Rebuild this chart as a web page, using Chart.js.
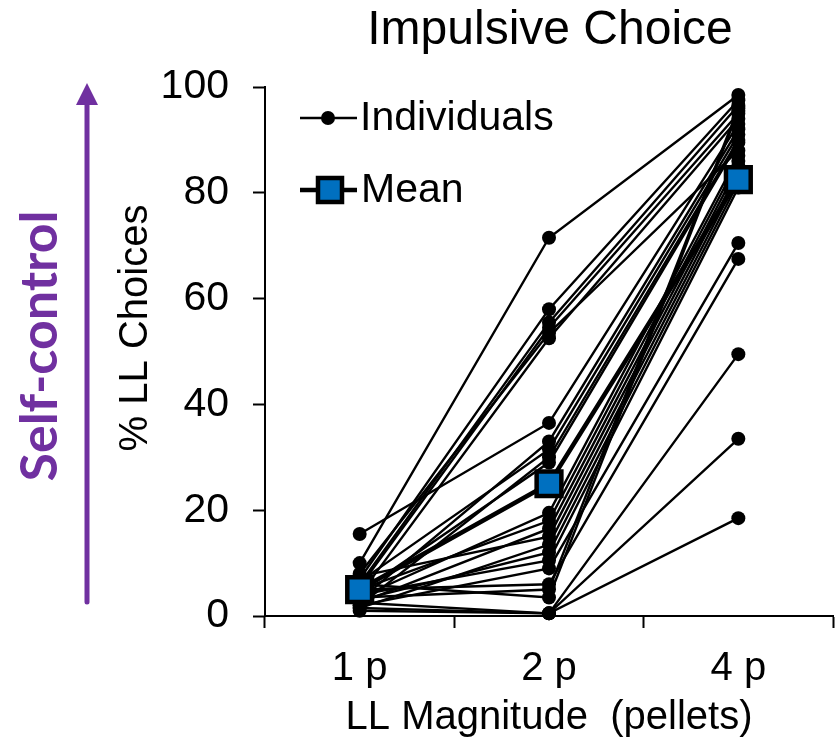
<!DOCTYPE html>
<html>
<head>
<meta charset="utf-8">
<script src="https://cdn.jsdelivr.net/npm/chart.js@4.4.1/dist/chart.umd.min.js"></script>
<style>
html, body { margin: 0; padding: 0; background: #fff; }
#wrap { width: 835px; height: 748px; }
</style>
</head>
<body>
<div id="wrap"><canvas id="impulsiveChart" width="835" height="748"></canvas></div>
<script>
const categories = ['1 p', '2 p', '4 p'];
const yTicks = [0, 20, 40, 60, 80, 100];

// % LL choices per subject (same index = same subject)
const onePellet  = [10, 7, 6, 5.5, 8, 4, 15.5, 3, 6.5, 2, 4.5, 3.5, 5, 2.5, 7.5, 1.5, 3, 4, 2, 5, 3.5, 1, 2.5, 1.5, 6];
const twoPellet  = [71.5, 58, 55.5, 54.5, 53.5, 52.5, 36.5, 33, 31.5, 30, 29, 19.5, 18, 16.5, 15, 13.5, 12, 10.5, 9, 6, 5, 0.5, 0.5, 0.5, 3.5];
const fourPellet = [98.5, 97.5, 96.5, 95, 88, 94, 93, 92, 91, 90, 89.5, 87, 86, 85, 84, 83, 82, 81, 70.5, 67.5, 96, 49.5, 33.5, 18.5, 95.5];
const meanValues = [5, 25, 82.5];

const FONT = '"Liberation Sans", Arial, sans-serif';
const PURPLE = '#7030A0';
const BLUE = '#0070C0';

const datasets = onePellet.map((v, i) => ({
    label: 'Individuals',
    data: [v, twoPellet[i], fourPellet[i]],
    borderColor: '#000',
    borderWidth: 2.4,
    pointRadius: 7,
    pointBackgroundColor: '#000',
    pointBorderWidth: 0,
    clip: false,
    order: 1
}));

datasets.push({
    label: 'Mean',
    data: meanValues,
    borderColor: '#000',
    borderWidth: 4.5,
    pointStyle: 'rect',
    pointRadius: 17.5,
    pointBackgroundColor: BLUE,
    pointBorderColor: '#000',
    pointBorderWidth: 4.5,
    clip: false,
    order: 0
});

// title, side labels, arrow and legend
const decorPlugin = {
    id: 'decor',
    afterDraw(chart) {
        const ctx = chart.ctx;
        ctx.save();
        ctx.fillStyle = '#000';
        ctx.textAlign = 'center';
        ctx.textBaseline = 'middle';
        ctx.font = '48px ' + FONT;
        ctx.fillText('Impulsive Choice', 550, 31);

        ctx.font = '40px ' + FONT;
        ctx.fillText('LL Magnitude  (pellets)', 549, 718);

        ctx.save();
        ctx.translate(136, 328);
        ctx.rotate(-Math.PI / 2);
        ctx.fillText('% LL Choices', 0, 0);
        ctx.restore();

        ctx.save();
        ctx.translate(40, 346);
        ctx.rotate(-Math.PI / 2);
        ctx.fillStyle = PURPLE;
        ctx.font = 'bold 52px Lato, "Open Sans", sans-serif';
        ctx.fillText('Self-control', 0, 0);
        ctx.restore();

        // purple arrow
        ctx.strokeStyle = PURPLE;
        ctx.fillStyle = PURPLE;
        ctx.lineWidth = 5;
        ctx.lineCap = 'round';
        ctx.beginPath();
        ctx.moveTo(87, 602);
        ctx.lineTo(87, 100);
        ctx.stroke();
        ctx.beginPath();
        ctx.moveTo(87, 83);
        ctx.lineTo(98, 105);
        ctx.lineTo(76, 105);
        ctx.closePath();
        ctx.fill();

        // legend
        ctx.strokeStyle = '#000';
        ctx.fillStyle = '#000';
        ctx.lineCap = 'butt';
        ctx.lineWidth = 2.4;
        ctx.beginPath();
        ctx.moveTo(300, 118);
        ctx.lineTo(357, 118);
        ctx.stroke();
        ctx.beginPath();
        ctx.arc(328, 118, 7, 0, Math.PI * 2);
        ctx.fill();

        ctx.lineWidth = 4.5;
        ctx.beginPath();
        ctx.moveTo(300, 190);
        ctx.lineTo(357, 190);
        ctx.stroke();
        ctx.fillStyle = BLUE;
        ctx.fillRect(318, 178, 24, 24);
        ctx.strokeRect(318, 178, 24, 24);

        ctx.fillStyle = '#000';
        ctx.textAlign = 'left';
        ctx.font = '41px ' + FONT;
        ctx.fillText('Individuals', 360, 119);
        ctx.fillText('Mean', 361, 191);
        ctx.restore();
    }
};

new Chart(document.getElementById('impulsiveChart'), {
    type: 'line',
    data: { labels: categories, datasets: datasets },
    options: {
        responsive: false,
        animation: false,
        devicePixelRatio: 1,
        layout: { autoPadding: false, padding: { top: 87, right: 2, left: 0, bottom: 0 } },
        plugins: { legend: { display: false }, tooltip: { enabled: false } },
        scales: {
            x: {
                type: 'category',
                offset: true,
                grid: { offset: true, drawOnChartArea: false, tickLength: 12, tickColor: '#000', tickWidth: 2 },
                border: { color: '#000', width: 2 },
                ticks: { color: '#000', font: { size: 40, family: FONT }, padding: 17, maxRotation: 0 },
                afterFit(s) { s.height = 132; s.paddingLeft = 0; s.paddingRight = 0; }
            },
            y: {
                min: 0,
                max: 100,
                afterBuildTicks(s) { s.ticks = yTicks.map(v => ({ value: v })); },
                grid: { drawOnChartArea: false, tickLength: 12, tickColor: '#000', tickWidth: 2 },
                border: { color: '#000', width: 2 },
                ticks: { color: '#000', font: { size: 41, family: FONT }, padding: 24 },
                afterFit(s) { s.width = 265; s.paddingTop = 0; s.paddingBottom = 0; }
            }
        }
    },
    plugins: [decorPlugin]
});
</script>
</body>
</html>
